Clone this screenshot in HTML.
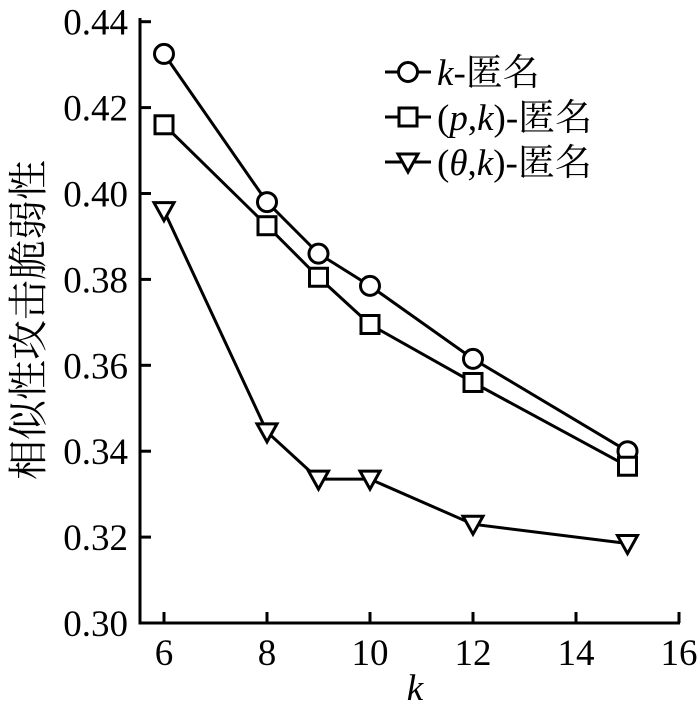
<!DOCTYPE html><html><head><meta charset="utf-8"><style>body{margin:0;background:#fff}svg{display:block}text{font-family:"Liberation Serif","Noto Serif CJK SC",serif;fill:#000}</style></head><body>
<svg id="c" width="700" height="708"></svg>
<script>
const ks=[6,8,9,10,12,15];
const kAnon=[0.4325,0.398,0.386,0.3785,0.3615,0.340];
const pkAnon=[0.416,0.3925,0.3805,0.3695,0.356,0.3365];
const tkAnon=[0.396,0.3445,0.3335,0.3335,0.323,0.3185];
const xTicks=[6,8,10,12,14,16];
const yTicks=[0.30,0.32,0.34,0.36,0.38,0.40,0.42,0.44];
const seriesNames=["k-匿名","(p,k)-匿名","(θ,k)-匿名"];
const NS="http://www.w3.org/2000/svg",svg=document.getElementById('c');
const X=v=>164+(v-6)*51.5, Y=v=>623-(v-0.30)/0.02*85.9;
function el(t,a,p){const e=document.createElementNS(NS,t);for(const k in a)e.setAttribute(k,a[k]);(p||svg).appendChild(e);return e;}
const ax=el('path',{d:`M140 18V623H680`,fill:'none',stroke:'#000','stroke-width':3});


xTicks.forEach(t=>{el('line',{x1:X(t),x2:X(t),y1:623,y2:612,stroke:'#000','stroke-width':3});
const tx=el('text',{x:X(t),y:665,'font-size':37,'text-anchor':'middle'});tx.textContent=t;

});
yTicks.forEach(t=>{if(t>0.301)el('line',{x1:140,x2:151,y1:Y(t),y2:Y(t),stroke:'#000','stroke-width':3});
const tx=el('text',{x:128,y:Y(t)+13,'font-size':37,'text-anchor':'end'});tx.textContent=t.toFixed(2);

});
const xl=el('text',{x:415,y:700,'font-size':37,'font-style':'italic','text-anchor':'middle'});xl.textContent='k';


const yl=el('text',{x:0,y:0,'font-size':40,'text-anchor':'middle',transform:'translate(42,320) rotate(-90)'});yl.textContent='相似性攻击脆弱性';


function marker(type,x,y,g){
 if(type==0)return el('circle',{cx:x,cy:y,r:9.5,fill:'#fff',stroke:'#000','stroke-width':3},g);
 if(type==1)return el('rect',{x:x-9,y:y-9,width:18,height:18,fill:'#fff',stroke:'#000','stroke-width':3},g);
 return el('path',{d:`M${x-10} ${y-8}H${x+10}L${x} ${y+10}Z`,fill:'#fff',stroke:'#000','stroke-width':3},g);
}
[kAnon,pkAnon,tkAnon].forEach((s,i)=>{
 const g=el('g',{});
 
 
 el('polyline',{points:s.map((v,j)=>X(ks[j])+','+Y(v)).join(' '),fill:'none',stroke:'#000','stroke-width':3},g);
 s.forEach((v,j)=>{const m=marker(i,X(ks[j]),Y(v),g);
 
 });
 const lg=el('g',{});
 
 
 const ly=72+i*45;
 el('line',{x1:385,x2:431,y1:ly,y2:ly,stroke:'#000','stroke-width':3},lg);
 marker(i,408,ly,lg);
 const t=el('text',{x:437,y:ly+13,'font-size':37},lg);
 if(i==0)t.innerHTML='<tspan font-style="italic">k</tspan>-匿名';
 if(i==1)t.innerHTML='(<tspan font-style="italic">p</tspan>,<tspan font-style="italic">k</tspan>)-匿名';
 if(i==2)t.innerHTML='(<tspan font-style="italic">θ</tspan>,<tspan font-style="italic">k</tspan>)-匿名';
});
</script></body></html>
